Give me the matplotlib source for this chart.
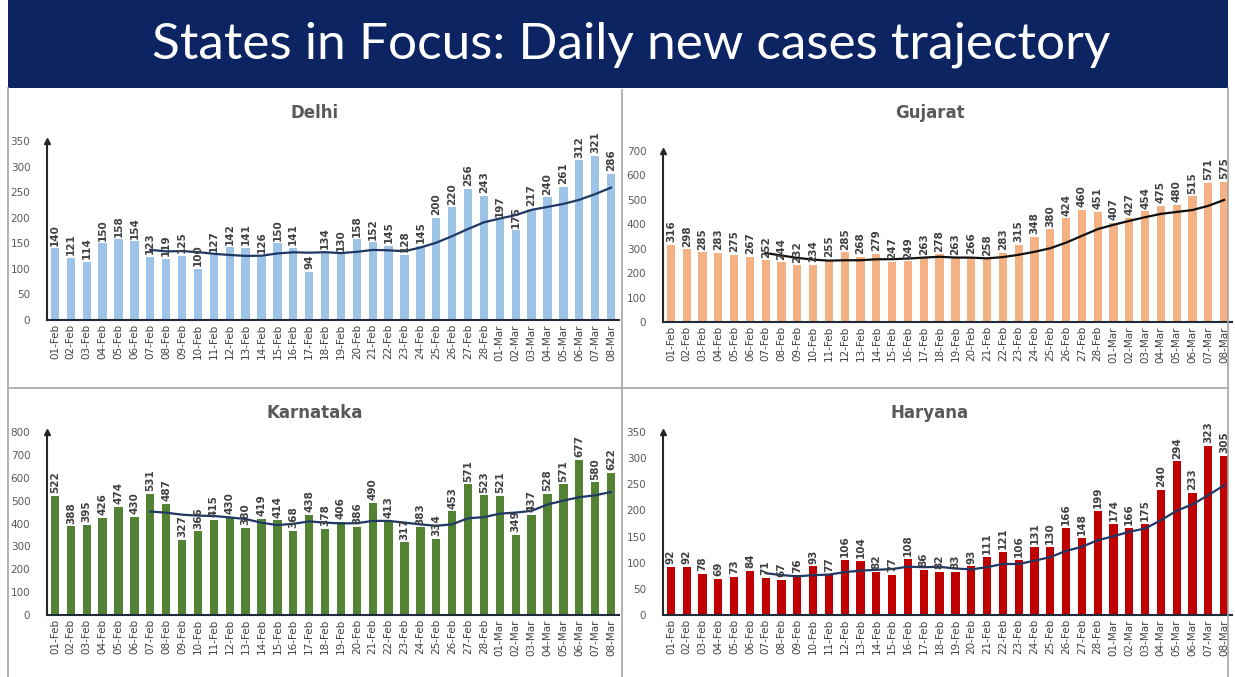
import numpy as np
import pandas as pd
import matplotlib
matplotlib.use("Agg")
import matplotlib.pyplot as plt

dates = ["%02d-Feb" % d for d in range(1, 29)] + ["%02d-Mar" % d for d in range(1, 9)]

delhi = [140, 121, 114, 150, 158, 154, 123, 119, 125, 100, 127, 142, 141, 126, 150, 141, 94, 134,
         130, 158, 152, 145, 128, 145, 200, 220, 256, 243, 197, 175, 217, 240, 261, 312, 321, 286]
gujarat = [316, 298, 285, 283, 275, 267, 252, 244, 232, 234, 255, 285, 268, 279, 247, 249, 263, 278,
           263, 266, 258, 283, 315, 348, 380, 424, 460, 451, 407, 427, 454, 475, 480, 515, 571, 575]
karnataka = [522, 388, 395, 426, 474, 430, 531, 487, 327, 366, 415, 430, 380, 419, 414, 368, 438, 378,
             406, 386, 490, 413, 317, 383, 334, 453, 571, 523, 521, 349, 437, 528, 571, 677, 580, 622]
haryana = [92, 92, 78, 69, 73, 84, 71, 67, 76, 93, 77, 106, 104, 82, 77, 108, 86, 82,
           83, 93, 111, 121, 106, 131, 130, 166, 148, 199, 174, 166, 175, 240, 294, 233, 323, 305]

W, H = 1235, 677
fig = plt.figure(figsize=(W / 100, H / 100), dpi=100)
fig.patch.set_facecolor("white")

def fx(px):
    return px / W

def fy(py):
    return 1 - py / H

# title banner
fig.patches.append(plt.Rectangle((fx(8), fy(88)), fx(1220), 88 / H, transform=fig.transFigure,
                                 facecolor="#0c2461", edgecolor="none"))
fig.text(fx(631), fy(45), "States in Focus: Daily new cases trajectory", color="white",
         fontsize=37, family="Lato", ha="center", va="center")

# panel separators / frame
line_kw = dict(transform=fig.transFigure, color="#a6a6a6", lw=1.2)
fig.add_artist(plt.Line2D([fx(622), fx(622)], [0, fy(90)], **line_kw))
fig.add_artist(plt.Line2D([fx(8), fx(1228)], [fy(388), fy(388)], **line_kw))
fig.add_artist(plt.Line2D([fx(8), fx(8)], [0, fy(88)], **line_kw))
fig.add_artist(plt.Line2D([fx(1228), fx(1228)], [0, fy(88)], **line_kw))

panels = [
    ("Delhi", delhi, "#9dc3e6", "#1f3864", 350, 50, (47, 619, 320, 141), 113),
    ("Gujarat", gujarat, "#f4b183", "#111111", 700, 100, (663, 1232, 322, 151), 113),
    ("Karnataka", karnataka, "#548235", "#1f3864", 800, 100, (47, 619, 615, 432), 413),
    ("Haryana", haryana, "#c00000", "#1f3864", 350, 50, (663, 1232, 615, 432), 413),
]

x = np.arange(len(dates))
for name, vals, color, lcolor, ymax, step, (l, r, b, t), ty in panels:
    ax = fig.add_axes([fx(l), fy(b), fx(r - l), (b - t) / H])
    ax.bar(x, vals, width=0.52, color=color)
    # 7-day moving average trend line
    ma = pd.Series(vals).rolling(7).mean()
    ax.plot(x, ma, color=lcolor, lw=1.6)
    for xi, v in zip(x, vals):
        ax.text(xi, v + ymax * 0.015, str(v), rotation=90, ha="center", va="bottom",
                fontsize=7.5, fontweight="bold", color="#404040")
    ax.set_xlim(-0.5, len(dates) - 0.5)
    ax.set_ylim(0, ymax)
    ax.set_yticks(np.arange(0, ymax + 1, step))
    ax.set_xticks(x)
    ax.set_xticklabels(dates, rotation=90, fontsize=7.5, color="#404040")
    ax.tick_params(axis="y", labelsize=7.5, colors="#595959", length=0, pad=12)
    ax.tick_params(axis="x", length=0, pad=3)
    for s in ["top", "right"]:
        ax.spines[s].set_visible(False)
    ax.spines["left"].set_color("#262626")
    ax.spines["left"].set_linewidth(1.5)
    ax.spines["bottom"].set_color("#1f2a3a")
    ax.spines["bottom"].set_linewidth(1.5)
    ax.plot(0, 1, marker="^", color="#262626", markersize=4, transform=ax.transAxes, clip_on=False)
    ax.patch.set_alpha(0)
    fig.text(fx((l + r) / 2 - 18), fy(ty), name, fontsize=12, fontweight="bold",
             color="#595959", ha="center", va="center")

fig.savefig("out.png", dpi=100)
